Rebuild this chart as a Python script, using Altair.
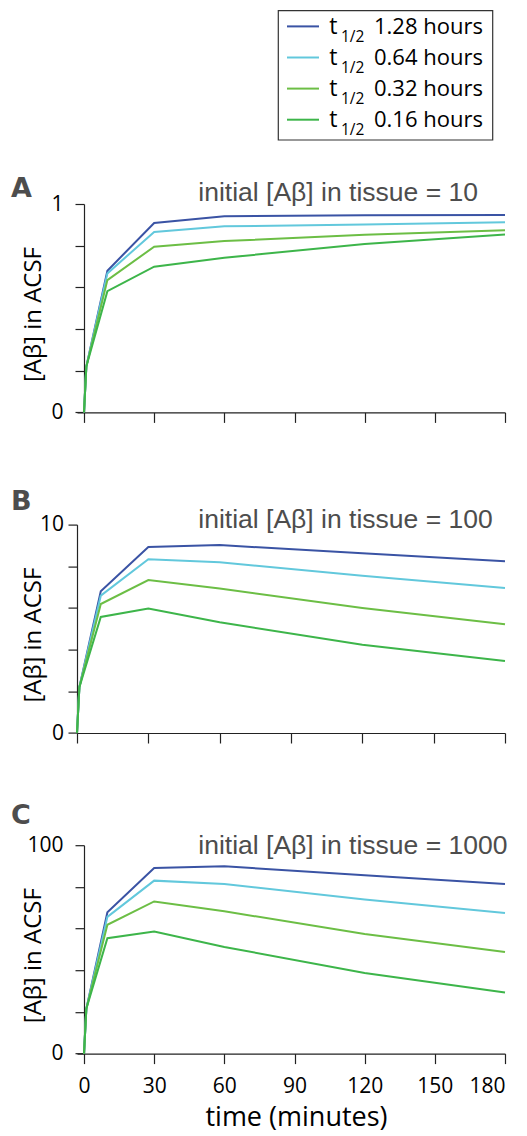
import altair as alt
import pandas as pd

# ---------------- data ----------------
times = [0, 1, 10, 30, 60, 120, 180]
series = ["1.28 hours", "0.64 hours", "0.32 hours", "0.16 hours"]
colors = ["#3a53a4", "#62c8dc", "#6cbe45", "#3db54a"]

a_128 = [0, 0.22, 0.680, 0.909, 0.941, 0.946, 0.947]
a_064 = [0, 0.22, 0.667, 0.866, 0.893, 0.902, 0.912]
a_032 = [0, 0.22, 0.635, 0.795, 0.822, 0.853, 0.874]
a_016 = [0, 0.22, 0.582, 0.699, 0.742, 0.808, 0.854]

b_128 = [0, 2.2, 6.80, 8.93, 9.02, 8.62, 8.24]
b_064 = [0, 2.2, 6.59, 8.34, 8.19, 7.55, 6.96]
b_032 = [0, 2.2, 6.19, 7.34, 6.93, 6.00, 5.22]
b_016 = [0, 2.2, 5.57, 5.97, 5.31, 4.24, 3.46]

c_128 = [0, 21.5, 67.8, 89.1, 89.9, 85.6, 81.4]
c_064 = [0, 21.5, 65.6, 83.0, 81.4, 73.9, 67.5]
c_032 = [0, 21.5, 61.8, 73.0, 68.3, 57.4, 48.8]
c_016 = [0, 21.5, 55.4, 58.6, 51.2, 38.7, 29.3]

panel_letters = ["A", "B", "C"]
initial_tissue = ["10", "100", "1000"]
y_max = [1, 10, 100]
x_ticks = [0, 30, 60, 90, 120, 150, 180]

panel_values = [
    [a_128, a_064, a_032, a_016],
    [b_128, b_064, b_032, b_016],
    [c_128, c_064, c_032, c_016],
]

LABEL_FONT = "Open Sans"
SUB_FONT = "Liberation Sans"
GRAY = "#4d4d4d"

W = 428
H = 208.4

# per-panel layout tweaks (axis position, text positions)
layout = [
    dict(offset=-7, xmin=-2.993, lpad=12, tx=-39, letter_y=-6.6, sub_y=-2.6),
    dict(offset=0, xmin=0, lpad=4.5, tx=-32, letter_y=-15, sub_y=3.4),
    dict(offset=-7, xmin=-2.993, lpad=12, tx=-39, letter_y=-21.6, sub_y=8.4),
]

color_scale = alt.Scale(domain=series, range=colors)
one = pd.DataFrame({"k": [0]})


def make_panel(i):
    rows = []
    for s, vals in zip(series, panel_values[i]):
        for t, v in zip(times, vals):
            rows.append({"time": t, "value": v, "series": s, "ord": series.index(s)})
    df = pd.DataFrame(rows)
    L = layout[i]
    ym = y_max[i]
    last = i == 2
    x_axis = alt.Axis(
        values=x_ticks,
        labels=last,
        title="time (minutes)" if last else None,
        tickSize=10,
        labelFontSize=21,
        labelFont=LABEL_FONT,
        labelColor="black",
        labelPadding=12,
        titleFont=LABEL_FONT,
        titleFontSize=27,
        titleFontWeight="normal",
        titleColor="black",
        titleBaseline="alphabetic",
        titleX=219,
        titleY=72,
        domainColor="#222",
        tickColor="#222",
        domainWidth=1.2,
        tickWidth=1.2,
        grid=False,
    )
    y_axis = alt.Axis(
        values=[ym * k / 5 for k in range(6)],
        labelExpr=f"datum.value == 0 || datum.value == {ym} ? '' + datum.value : ''",
        offset=L["offset"],
        tickSize=9,
        labelFontSize=21,
        labelFont=LABEL_FONT,
        labelColor="black",
        labelPadding=L["lpad"],
        title="[Aβ] in ACSF",
        titleFont=LABEL_FONT,
        titleFontSize=24,
        titleFontWeight="normal",
        titleColor="black",
        titleAngle=-90,
        titleAlign="center",
        titleBaseline="bottom",
        titleX=L["tx"],
        titleY=110,
        domainColor="#222",
        tickColor="#222",
        domainWidth=1.2,
        tickWidth=1.2,
        grid=False,
    )
    lines = alt.Chart(df).mark_line(strokeWidth=2).encode(
        x=alt.X("time:Q", scale=alt.Scale(domain=[L["xmin"], 180], nice=False, zero=False), axis=x_axis),
        y=alt.Y("value:Q", scale=alt.Scale(domain=[0, ym], nice=False), axis=y_axis),
        color=alt.Color("series:N", scale=color_scale, legend=None),
        order=alt.Order("ord:Q"),
    )
    letter = alt.Chart(one).mark_text(
        align="left", baseline="alphabetic", font="DejaVu Sans", fontWeight="bold",
        fontSize=27, color=GRAY,
    ).encode(x=alt.value(-66), y=alt.value(L["letter_y"]), text=alt.value(panel_letters[i]))
    sub = alt.Chart(one).mark_text(
        align="left", baseline="alphabetic", font=SUB_FONT, fontSize=26.5, color=GRAY,
    ).encode(x=alt.value(121.3), y=alt.value(L["sub_y"]),
             text=alt.value(f"initial [Aβ] in tissue = {initial_tissue[i]}"))
    layers = [lines, letter, sub]
    if i == 0:
        leg_df = pd.DataFrame({"series": series, "label": series})
        base = alt.Chart(leg_df).encode(
            y=alt.Y("series:N", sort=series,
                    scale=alt.Scale(type="point", domain=series, range=[-177.6, -84.3], padding=0),
                    axis=None)
        )
        rule = base.mark_rule(strokeWidth=2).encode(
            x=alt.value(210), x2=alt.value(242),
            color=alt.Color("series:N", scale=color_scale, legend=None),
        )
        t = base.mark_text(align="left", baseline="alphabetic", dy=7.6, fontSize=23,
                           font=LABEL_FONT, color="black").encode(
            x=alt.value(252.3), text=alt.value("t"))
        tsub = base.mark_text(align="left", baseline="alphabetic", dy=15.5, fontSize=15.5,
                              font=LABEL_FONT, color="black").encode(
            x=alt.value(264), text=alt.value("1/2"))
        lab = base.mark_text(align="left", baseline="alphabetic", dy=7.6, fontSize=22,
                             font=LABEL_FONT, color="black").encode(
            x=alt.value(297), text="label:N")
        box = alt.Chart(one).mark_rect(filled=False, stroke="#333", strokeWidth=1.2).encode(
            x=alt.value(201.3), x2=alt.value(415.7), y=alt.value(-193.3), y2=alt.value(-64))
        legend = alt.layer(rule, t, tsub, lab)
        layers += [box, legend]
        return alt.layer(*layers).resolve_scale(y="independent").properties(width=W, height=H)
    return alt.layer(*layers).properties(width=W, height=H)


chart = alt.vconcat(
    make_panel(0), make_panel(1), make_panel(2), spacing=111.6, bounds="flush"
).properties(
    padding={"left": 3, "top": 2, "right": 0, "bottom": 4}
).configure_view(stroke=None)

chart.save("out.html", embed_options={"renderer": "svg", "actions": False})
